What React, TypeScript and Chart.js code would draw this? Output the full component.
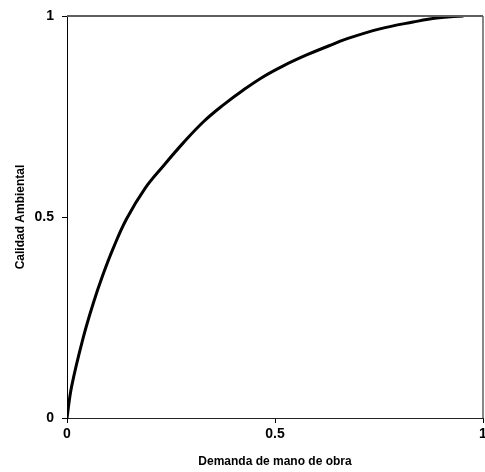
import React, { useEffect, useRef } from "react";
import { Chart, registerables } from "chart.js";

Chart.register(...registerables);

const demandaManoObra = [0, 0.011, 0.039, 0.063, 0.087, 0.111, 0.143, 0.188, 0.2315, 0.28, 0.328, 0.376, 0.424, 0.472, 0.52, 0.576, 0.63, 0.672, 0.752, 0.832, 0.889, 0.953];
const calidadAmbiental = [0, 0.078, 0.2, 0.285, 0.358, 0.422, 0.495, 0.572, 0.627, 0.685, 0.737, 0.779, 0.816, 0.849, 0.876, 0.903, 0.926, 0.943, 0.968, 0.985, 0.995, 1.0];
const tickValues = [0, 0.5, 1];
const tickLabels = ["0", "0.5", "1"];

const frameBorder = {
  id: "frameBorder",
  afterDraw(chart: any) {
    const { ctx, chartArea } = chart;
    ctx.save();
    ctx.strokeStyle = "#5f5f5f";
    ctx.lineWidth = 2;
    ctx.beginPath();
    ctx.moveTo(chartArea.left, chartArea.top);
    ctx.lineTo(chartArea.right, chartArea.top);
    ctx.stroke();
    ctx.lineWidth = 1.5;
    ctx.beginPath();
    ctx.moveTo(chartArea.right, chartArea.top);
    ctx.lineTo(chartArea.right, chartArea.bottom);
    ctx.stroke();
    ctx.restore();
  },
};

export default function App() {
  const ref = useRef<HTMLCanvasElement>(null);
  useEffect(() => {
    if (!ref.current) return;
    const points = demandaManoObra.map((x, i) => ({ x, y: calidadAmbiental[i] }));
    const font = { family: "'Liberation Sans', Arial, sans-serif", weight: "bold" as const };
    const chart = new Chart(ref.current, {
      type: "scatter",
      data: {
        datasets: [
          {
            data: points,
            showLine: true,
            borderColor: "#000",
            borderWidth: 3,
            pointRadius: 0,
            tension: 0.4,
          },
        ],
      },
      options: {
        animation: false,
        responsive: false,
        maintainAspectRatio: false,
        layout: { padding: { top: 16, right: 2, left: 0, bottom: 0 } },
        plugins: { legend: { display: false }, tooltip: { enabled: false } },
        scales: {
          x: {
            type: "linear",
            min: 0,
            max: 1,
            afterBuildTicks: (s: any) => {
              s.ticks = tickValues.map((v) => ({ value: v }));
            },
            afterFit: (s: any) => {
              s.height = 54;
              s.paddingLeft = 0;
              s.paddingRight = 0;
            },
            grid: { display: true, drawOnChartArea: false, drawTicks: true, tickLength: 5, color: "#000" },
            border: { display: true, color: "#222", width: 1 },
            ticks: {
              color: "#000",
              padding: 3,
              maxRotation: 0,
              autoSkip: false,
              font: { ...font, size: 14 },
              callback: (v: any) => tickLabels[tickValues.indexOf(Number(v))] ?? "",
            },
            title: {
              display: true,
              text: "Demanda de mano de obra",
              color: "#000",
              font: { ...font, size: 12 },
              padding: { top: 0, bottom: 3 },
            },
          },
          y: {
            type: "linear",
            min: 0,
            max: 1,
            afterBuildTicks: (s: any) => {
              s.ticks = tickValues.map((v) => ({ value: v }));
            },
            afterFit: (s: any) => {
              s.width = 67;
              s.paddingTop = 0;
              s.paddingBottom = 0;
            },
            grid: { display: true, drawOnChartArea: false, drawTicks: true, tickLength: 5, color: "#000" },
            border: { display: true, color: "#000", width: 1 },
            ticks: {
              color: "#000",
              padding: 8,
              autoSkip: false,
              font: { ...font, size: 14 },
              callback: (v: any) => tickLabels[tickValues.indexOf(Number(v))] ?? "",
            },
            title: {
              display: true,
              text: "Calidad Ambiental",
              color: "#000",
              font: { ...font, size: 12 },
              padding: { top: 13, bottom: 0 },
            },
          },
        },
      },
      plugins: [frameBorder],
    });
    return () => chart.destroy();
  }, []);
  return (
    <div style={{ position: "absolute", left: 0, top: 0, width: 485, height: 472, background: "#fff" }}>
      <canvas ref={ref} width={485} height={472} style={{ width: 485, height: 472 }} />
    </div>
  );
}
